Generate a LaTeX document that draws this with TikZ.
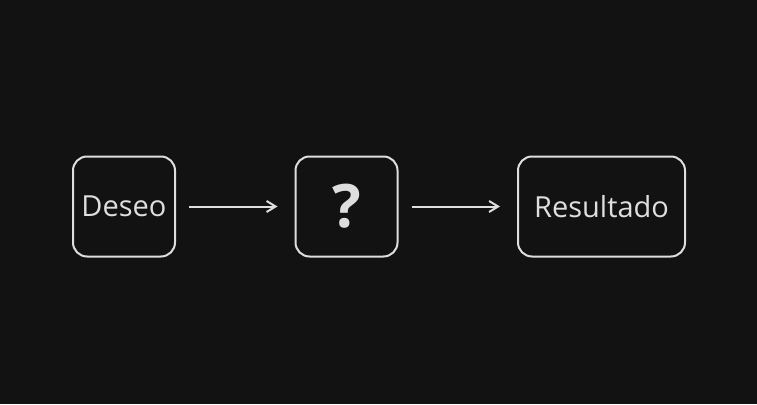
\documentclass[tikz,border=0pt]{standalone}
\usepackage{fontspec}
\setmainfont{Open Sans}
\usetikzlibrary{arrows.meta, positioning}
\definecolor{bgdark}{HTML}{121212}
\definecolor{chalk}{HTML}{DEDEDE}

\begin{document}
\begin{tikzpicture}[
  x = 1pt, y = -1pt,             % pixel units
  > = {Straight Barb[length=9pt, width=11pt]}, % open arrow head
  shorten < = 13pt,              % keep arrows off the boxes
  shorten > = 17pt,
  node distance = 118.5pt,       % gap between boxes
  line width = 2pt,
  chalk
  ]

  \tikzstyle{B1}=[      % Defines style for rounded box
  draw = chalk,
  rounded corners = 14pt,
  minimum height = 100pt,
  inner sep = 0pt,
  font = \fontsize{29}{32}\selectfont
  ]

  % background and margins
  \fill[bgdark] (0,0) rectangle (757,404);
  \useasboundingbox (0,0) rectangle (757,404);

  % Definition of the nodes
  \node[B1, minimum width = 102pt] (de) at (124,206.5) {Deseo};
  \node[B1, minimum width = 102pt, font = \bfseries\fontsize{60}{62}\selectfont] (qm) [right=of de] {?};
  \node[B1, minimum width = 167pt] (re) [right=of qm] {Resultado};

  \draw[->] (de) -- (qm);
  \draw[->] (qm) -- (re);
\end{tikzpicture}
\end{document}
